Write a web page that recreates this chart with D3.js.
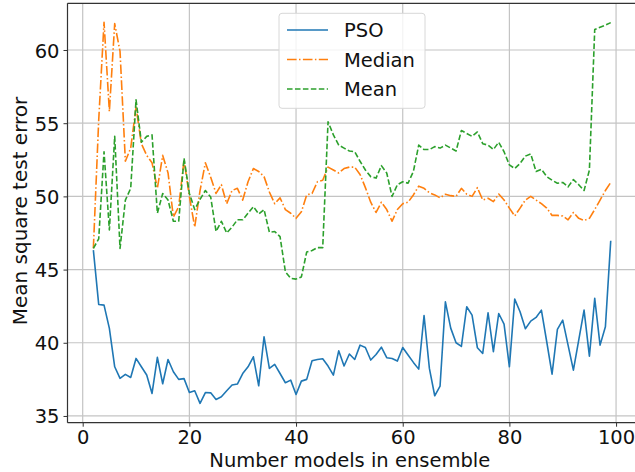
<!DOCTYPE html>
<html><head><meta charset="utf-8">
<script src="https://cdn.jsdelivr.net/npm/d3@7"></script>
<style>
html,body{margin:0;padding:0;background:#fff;}
svg{display:block;font-family:"DejaVu Sans",sans-serif;}
</style></head>
<body><svg id="c" width="635" height="472"></svg>
<script>
const ensembleSizes = d3.range(2, 100);
const psoValues = [46.33,42.62,42.57,40.98,38.36,37.57,37.84,37.63,38.93,38.36,37.8,36.54,39.0,37.2,38.86,38.02,37.5,37.55,36.6,36.72,35.86,36.6,36.58,36.13,36.31,36.72,37.11,37.18,37.9,38.36,39.04,37.06,40.41,38.25,38.52,37.9,37.27,37.45,36.47,37.38,37.5,38.77,38.86,38.91,38.41,37.79,39.45,38.41,39.23,38.86,39.84,39.68,38.82,39.2,39.7,38.98,38.93,38.75,39.68,39.16,38.66,38.2,41.86,38.25,36.38,37.04,42.8,41.0,40.0,39.75,42.46,41.89,39.66,39.27,42.05,39.39,42.0,41.28,38.36,42.98,42.12,40.96,41.48,41.73,42.23,40.07,37.86,40.91,41.55,39.84,38.13,40.18,42.23,39.09,43.03,39.84,41.09,46.97];
const medianValues = [46.45,55.2,61.9,55.8,61.8,59.9,52.4,53.3,56.1,53.6,52.8,52.3,50.55,52.8,51.6,48.6,49.3,52.5,50.0,47.9,50.4,52.3,51.3,50.2,50.8,49.5,50.4,50.55,49.75,51.0,51.9,51.7,51.35,50.3,49.5,49.9,49.1,48.85,48.5,48.95,50.1,50.2,51.0,51.1,52.0,51.8,51.6,51.9,52.0,52.0,51.5,50.6,49.6,48.9,49.6,49.1,48.3,49.1,49.5,49.6,50.1,50.7,50.55,50.25,50.1,49.9,50.15,50.05,50.0,50.55,50.15,50.0,50.6,49.75,49.87,49.64,50.16,49.75,49.2,48.66,49.2,49.75,50.0,49.75,49.5,49.2,48.7,48.7,48.66,48.4,48.9,48.5,48.35,48.5,49.1,49.75,50.4,50.95];
const meanValues = [46.45,47.1,53.05,47.7,54.1,46.45,49.75,50.55,56.6,53.7,54.1,54.2,48.85,50.2,49.75,48.3,48.3,52.6,50.2,49.1,49.8,50.4,49.95,47.6,48.3,47.5,47.9,48.4,48.4,48.85,49.3,48.8,49.1,47.55,47.6,47.25,44.85,44.4,44.35,44.5,46.2,46.3,46.5,46.5,55.1,54.2,53.5,53.3,53.1,53.05,52.4,51.8,51.35,51.25,52.1,51.6,50.0,50.8,51.0,50.9,51.7,53.5,53.2,53.2,53.4,53.3,53.5,53.3,53.1,54.5,54.3,54.1,54.4,53.6,53.5,53.2,53.7,53.05,52.15,51.9,52.25,52.75,52.9,51.7,51.85,51.35,51.1,50.9,50.95,50.65,51.15,50.8,50.4,51.8,61.4,61.55,61.7,61.87];
const xTicks = [0,20,40,60,80,100];
const yTicks = [35,40,45,50,55,60];
const seriesNames = ["PSO","Median","Mean"];
const seriesColors = ["#1f77b4","#ff7f0e","#2ca02c"];
const seriesDash = [null,"9.6,2.4,1.5,2.4","5.55,2.4"];
const xLabel = "Number models in ensemble";
const yLabel = "Mean square test error";

const svg = d3.select("#c");
const L = 67.5, R = 636.6, T = 3.3, B = 422.7;
const x = d3.scaleLinear().domain([-2.85, 103.85]).range([L, R]);
const y = d3.scaleLinear().domain([34.54, 63.19]).range([B, T]);

// grid
const g = svg.append("g");
g.selectAll(".gx").data(xTicks).enter().append("line")
  .attr("x1", d=>x(d)).attr("x2", d=>x(d)).attr("y1", T).attr("y2", B)
  .attr("stroke", "#c4c4c4").attr("stroke-width", 1.2);
g.selectAll(".gy").data(yTicks).enter().append("line")
  .attr("x1", L).attr("x2", R).attr("y1", d=>y(d)).attr("y2", d=>y(d))
  .attr("stroke", "#c4c4c4").attr("stroke-width", 1.2);

// series
const allSeries = [psoValues, medianValues, meanValues];
const line = d3.line().x((d,i)=>x(ensembleSizes[i])).y(d=>y(d));
allSeries.forEach((vals, k) => {
  svg.append("path").datum(vals).attr("d", line)
    .attr("fill", "none").attr("stroke", seriesColors[k]).attr("stroke-width", 1.6)
    .attr("stroke-dasharray", seriesDash[k]).attr("stroke-linejoin","round");
});

// axes
const xAxis = d3.axisBottom(x).tickValues(xTicks).tickSize(4).tickPadding(3).tickFormat(d3.format("d"));
const yAxis = d3.axisLeft(y).tickValues(yTicks).tickSize(4).tickPadding(4).tickFormat(d3.format("d"));
const gx = svg.append("g").attr("transform", `translate(0,${B})`).call(xAxis);
const gy = svg.append("g").attr("transform", `translate(${L},0)`).call(yAxis);
[gx, gy].forEach(a => {
  a.select(".domain").remove();
  a.selectAll("line").attr("stroke", "#333").attr("stroke-width", 1);
  a.selectAll("text").attr("fill", "#111").style("font-size", "19.5px").style("font-family", "DejaVu Sans");
});
gy.selectAll("text").attr("dy", "0.36em");
// spines
svg.append("line").attr("x1", L).attr("x2", L).attr("y1", T).attr("y2", B).attr("stroke", "#333").attr("stroke-width", 1.2);
svg.append("line").attr("x1", L).attr("x2", R).attr("y1", B).attr("y2", B).attr("stroke", "#333").attr("stroke-width", 1.2);
svg.append("line").attr("x1", L).attr("x2", R).attr("y1", T).attr("y2", T).attr("stroke", "#333").attr("stroke-width", 1.2);

// axis labels
svg.append("text").attr("x", (L + 616)/2 + 8).attr("y", 467.2).attr("text-anchor", "middle")
  .style("font-size", "19.5px").attr("fill", "#111").text(xLabel);
svg.append("text").attr("transform", `translate(27,${(T+B)/2 - 2}) rotate(-90)`).attr("text-anchor", "middle")
  .style("font-size", "20px").attr("fill", "#111").text(yLabel);

// legend
const lg = svg.append("g");
lg.append("rect").attr("x", 279).attr("y", 13.3).attr("width", 146).attr("height", 95).attr("rx", 3)
  .attr("fill", "#fff").attr("fill-opacity", 0.8).attr("stroke", "#d8d8d8").attr("stroke-width", 1);
seriesNames.forEach((name, k) => {
  const yy = 30 + k*29.5;
  lg.append("line").attr("x1", 287).attr("x2", 328).attr("y1", yy).attr("y2", yy)
    .attr("stroke", seriesColors[k]).attr("stroke-width", 1.6).attr("stroke-dasharray", seriesDash[k]);
  lg.append("text").attr("x", 344).attr("y", yy + 7).style("font-size", "19.5px").attr("fill", "#111").text(name);
});
</script></body></html>
